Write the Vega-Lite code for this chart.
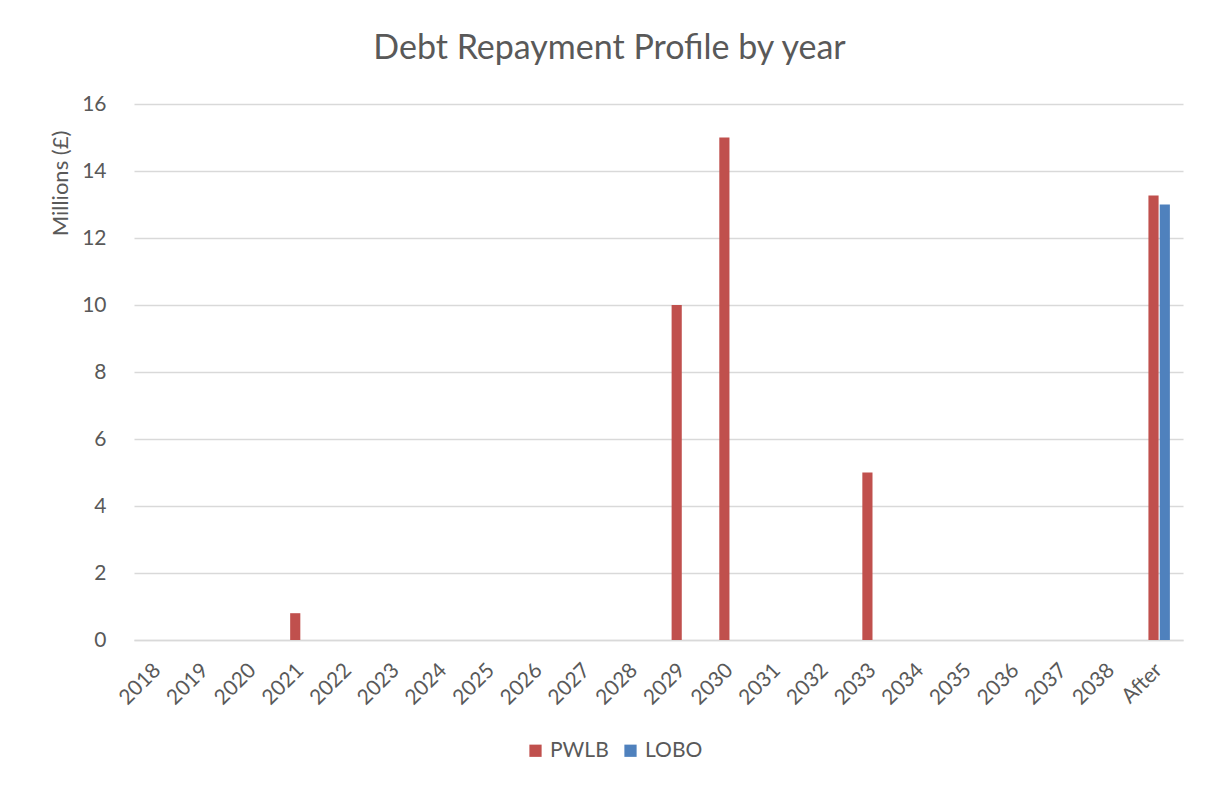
{
  "$schema": "https://vega.github.io/schema/vega-lite/v6.json",
  "width": 1049,
  "height": 536,
  "autosize": {"type": "none"},
  "padding": {"left": 134, "top": 104, "right": 28, "bottom": 147},
  "background": "white",
  "title": {
    "text": "Debt Repayment Profile by year",
    "font": "Lato",
    "fontSize": 34,
    "fontWeight": "normal",
    "color": "#595959",
    "anchor": "middle",
    "baseline": "alphabetic",
    "offset": 0,
    "dx": -49
  },
  "data": {
    "values": [
      {"year": "2021", "series": "PWLB", "value": 0.8},
      {"year": "2029", "series": "PWLB", "value": 10},
      {"year": "2030", "series": "PWLB", "value": 15},
      {"year": "2033", "series": "PWLB", "value": 5},
      {"year": "After", "series": "PWLB", "value": 13.27},
      {"year": "After", "series": "LOBO", "value": 13}
    ]
  },
  "mark": {"type": "bar"},
  "encoding": {
    "x": {
      "field": "year",
      "type": "nominal",
      "sort": null,
      "scale": {
        "domain": ["2018","2019","2020","2021","2022","2023","2024","2025","2026","2027","2028","2029","2030","2031","2032","2033","2034","2035","2036","2037","2038","After"],
        "paddingInner": 0.55,
        "paddingOuter": 0.275
      },
      "axis": {
        "title": null,
        "labelAngle": -45,
        "labelAlign": "right",
        "labelBaseline": "top",
        "labelPadding": 19,
        "labelOffset": -8,
        "labelFont": "Lato",
        "labelFontSize": 21,
        "labelColor": "#595959",
        "ticks": false,
        "domainColor": "#d9d9d9",
        "domainWidth": 1.5,
        "grid": false
      }
    },
    "xOffset": {
      "field": "series",
      "type": "nominal",
      "scale": {"domain": ["PWLB", "LOBO"], "paddingInner": 0.1}
    },
    "y": {
      "field": "value",
      "type": "quantitative",
      "scale": {"domain": [0, 16]},
      "axis": {
        "title": "Millions (£)",
        "titleFont": "Lato",
        "titleFontSize": 22,
        "titleFontWeight": "normal",
        "titleColor": "#595959",
        "titleX": -74,
        "titleY": 79,
        "titleAlign": "center",
        "titleBaseline": "middle",
        "titleAngle": -90,
        "values": [0, 2, 4, 6, 8, 10, 12, 14, 16],
        "labelFont": "Lato",
        "labelFontSize": 21,
        "labelColor": "#595959",
        "labelPadding": 28,
        "ticks": false,
        "domain": false,
        "gridColor": "#d9d9d9",
        "gridWidth": 1.5
      }
    },
    "color": {
      "field": "series",
      "type": "nominal",
      "scale": {"domain": ["PWLB", "LOBO"], "range": ["#C0504D", "#4F81BD"]},
      "legend": {
        "title": null,
        "orient": "none",
        "direction": "horizontal",
        "legendX": 391,
        "legendY": 636,
        "padding": 0,
        "symbolType": "square",
        "symbolSize": 150,
        "symbolStrokeWidth": 0,
        "labelFont": "Lato",
        "labelFontSize": 21,
        "labelColor": "#595959",
        "labelOffset": 4,
        "columnPadding": 11
      }
    }
  },
  "config": {
    "view": {"stroke": null}
  }
}
